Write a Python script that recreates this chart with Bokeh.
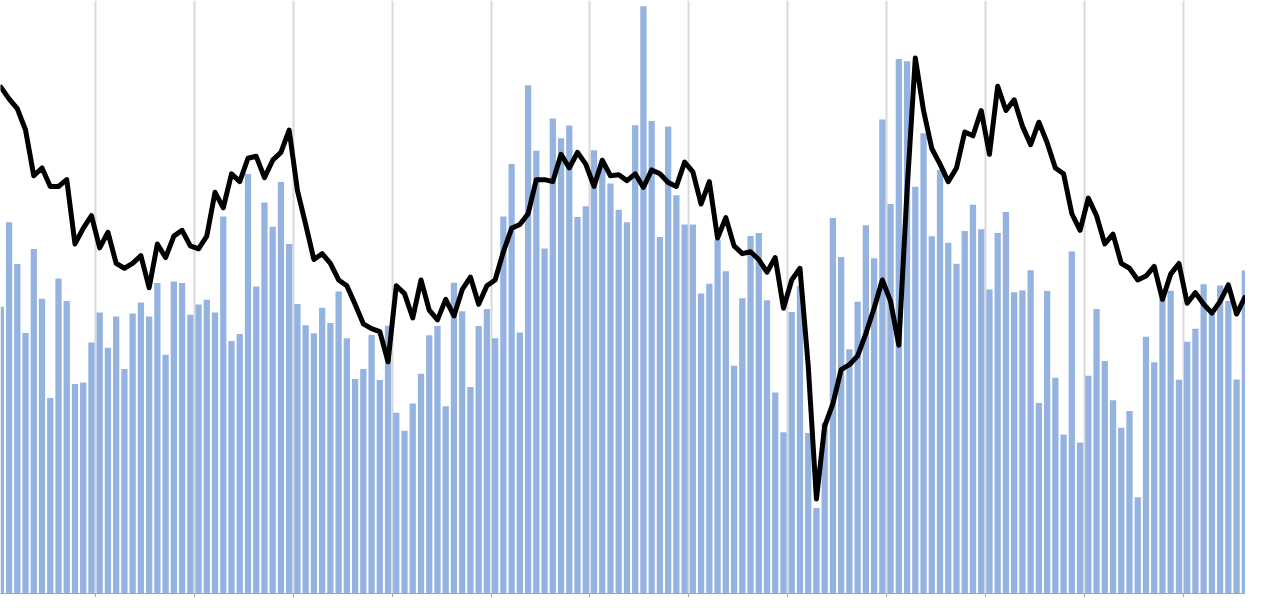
from bokeh.plotting import figure
from bokeh.models import FixedTicker, Range1d, ColumnDataSource
from bokeh.embed import file_html
from bokeh.resources import INLINE

# Monthly bar series (arbitrary units)
bar_values = [
    294.5, 381.3, 338.3, 267.6, 353.9, 302.7, 200.8, 323.5, 300.4, 215.2, 216.8, 257.8,
    288.7, 252.4, 284.4, 230.5, 287.5, 298.8, 284.4, 318.8, 245.3, 320.3, 318.8, 286.3,
    296.9, 301.6, 288.5, 387.1, 259.4, 266.4, 430.9, 315.2, 401.6, 376.6, 422.7, 359.0,
    297.3, 275.4, 267.2, 293.4, 277.7, 310.2, 262.1, 220.3, 230.5, 265.6, 219.2, 275.0,
    185.6, 167.2, 195.0, 225.8, 265.2, 274.6, 192.2, 319.2, 289.9, 212.1, 274.6, 292.2,
    262.1, 387.1, 441.0, 268.0, 521.9, 454.7, 354.3, 487.9, 467.6, 480.5, 386.7, 397.7,
    455.1, 443.0, 421.0, 394.2, 381.3, 480.9, 603.1, 485.2, 366.0, 479.7, 409.0, 379.0,
    379.0, 308.2, 318.0, 363.0, 330.9, 234.0, 303.1, 367.2, 370.3, 301.2, 206.3, 165.6,
    289.1, 316.0, 164.9, 87.9, 175.4, 385.6, 345.7, 250.8, 299.6, 378.1, 344.2, 486.7,
    400.0, 548.8, 546.5, 417.6, 472.7, 366.8, 434.8, 360.2, 338.7, 372.3, 399.2, 374.2,
    312.1, 370.3, 391.8, 309.4, 311.3, 332.0, 195.7, 310.6, 221.5, 163.3, 351.2, 155.1,
    223.5, 292.2, 238.7, 198.5, 170.3, 187.5, 98.8, 263.7, 237.5, 303.0, 311.0, 219.5,
    258.6, 271.9, 317.6, 287.0, 316.4, 300.4, 219.9, 331.7,
]

# Smoothed trend line (same units)
line_values = [
    520, 508, 498, 476, 429, 437, 418, 418, 425, 359, 375, 388,
    355, 371, 339, 334, 339, 347, 314, 359, 345, 367, 373, 357,
    354, 367, 412, 396, 431, 423, 447, 449, 427, 445, 453, 476,
    414, 379, 343, 349, 339, 322, 316, 297, 277, 272, 269, 238,
    316, 308, 283, 322, 291, 281, 302, 285, 312, 325, 297, 316,
    322, 351, 375, 379, 390, 425, 425, 423, 451, 437, 453, 441,
    418, 445, 429, 430, 424, 431, 417, 435, 431, 422, 418, 443,
    433, 400, 423, 365, 386, 357, 349, 351, 343, 330, 345, 293,
    322, 334, 234, 97, 172, 195, 230, 235, 244, 267, 293, 322,
    300, 255, 414, 550, 496, 457, 441, 423, 437, 474, 470, 496,
    451, 521, 496, 507, 480, 461, 484, 463, 437, 431, 390, 373,
    406, 388, 359, 369, 339, 334, 322, 326, 336, 302, 328, 339,
    298, 309, 297, 288, 300, 317, 287, 304,
]

months = list(range(len(bar_values)))
year_ticks = [11.5 + 12 * j for j in range(13)]

src = ColumnDataSource(dict(x=months, bar=bar_values, line=line_values))

p = figure(width=1245, height=597, output_backend="svg", toolbar_location=None,
           x_range=Range1d(-0.04, 151.08), y_range=Range1d(0, 609),
           min_border=0, min_border_left=0, min_border_right=0,
           min_border_top=0, min_border_bottom=0)
p.outline_line_color = None
p.background_fill_color = "white"
p.border_fill_color = "white"

p.vbar(x="x", top="bar", bottom=0, width=0.76, source=src,
       fill_color="#95B3E0", line_color=None)
p.line(x="x", y="line", source=src, line_color="black", line_width=5,
       line_join="round", line_cap="round")

p.yaxis.visible = False
p.ygrid.visible = False

ax = p.xaxis[0]
ax.ticker = FixedTicker(ticks=year_ticks)
ax.minor_tick_line_color = None
ax.major_tick_in = 0
ax.major_tick_out = 4
ax.major_tick_line_color = "#a6a6a6"
ax.axis_line_color = "#a6a6a6"
ax.major_label_text_font_size = "0px"
ax.major_label_standoff = 0
ax.major_label_overrides = {t: "" for t in year_ticks}

p.xgrid.ticker = FixedTicker(ticks=year_ticks)
p.xgrid.grid_line_color = "#d9d9d9"
p.xgrid.grid_line_width = 2

open("out.html", "w").write(file_html(p, INLINE))
